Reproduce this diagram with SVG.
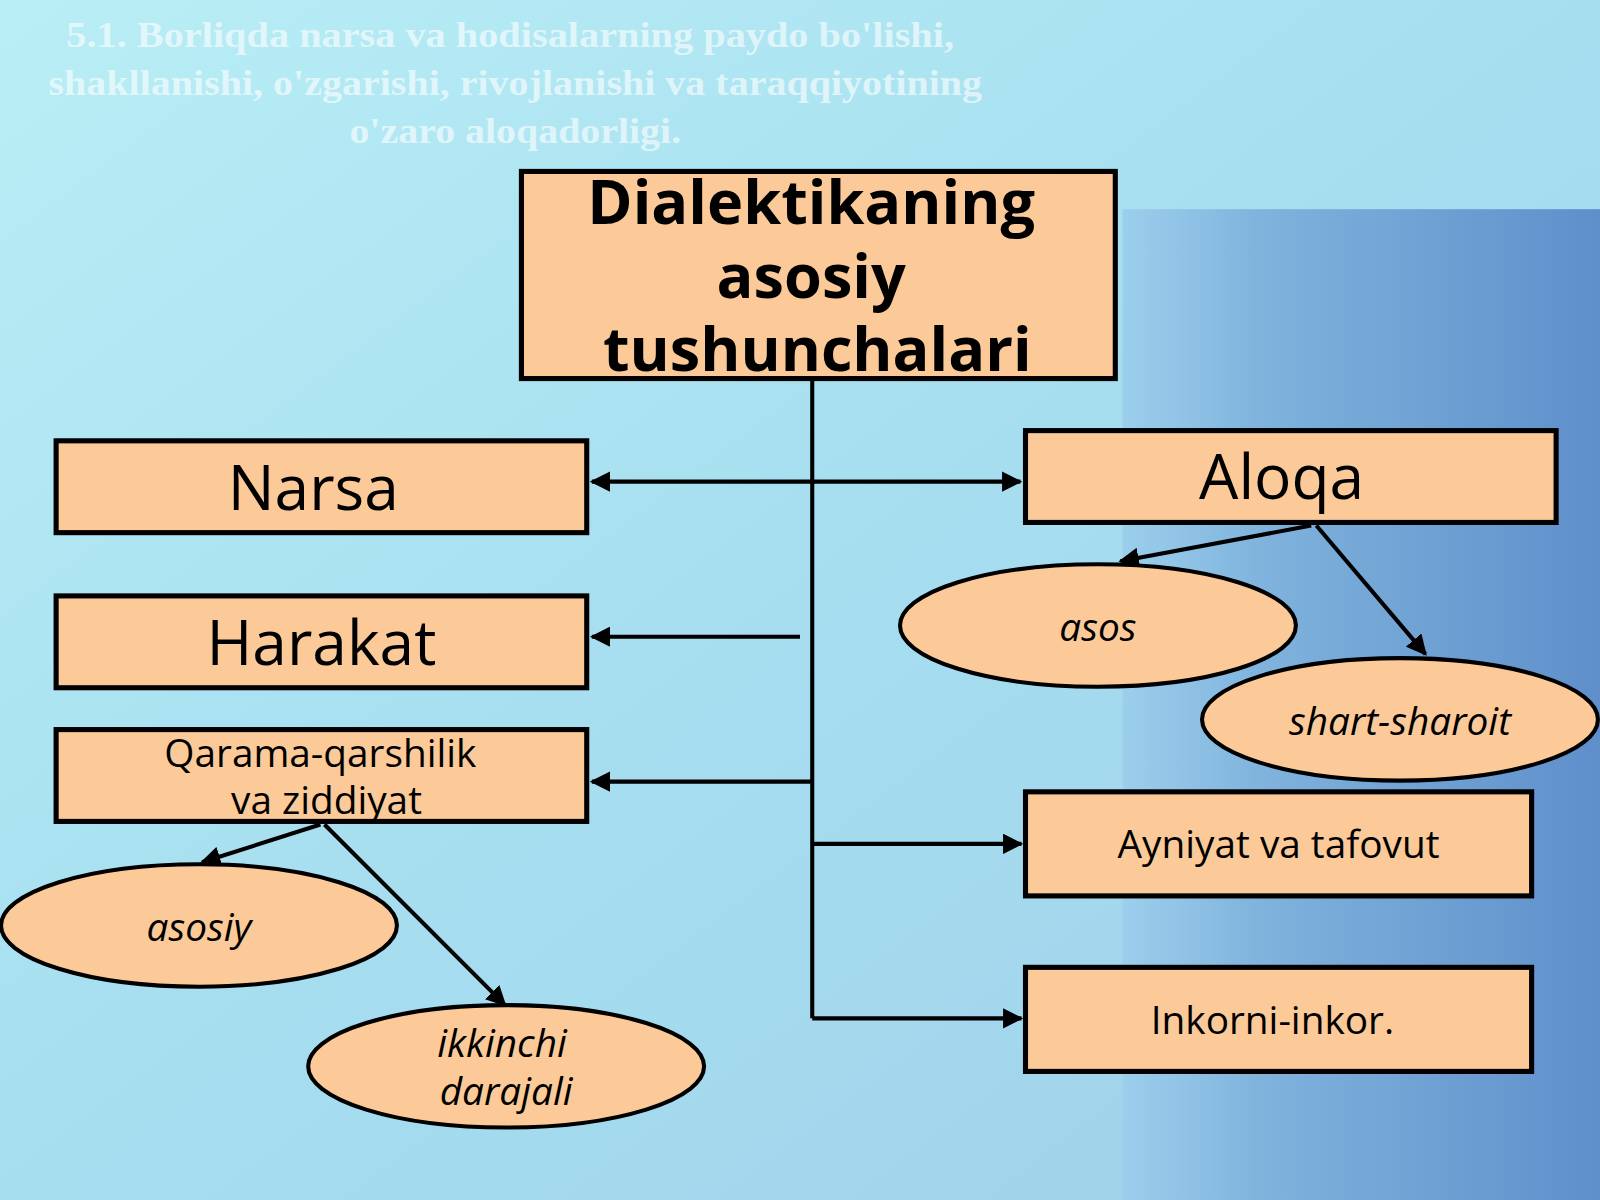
<svg xmlns="http://www.w3.org/2000/svg" width="1600" height="1200" viewBox="0 0 1600 1200">
<defs>
<linearGradient id="bg" x1="0" y1="0" x2="1" y2="1"><stop offset="0" stop-color="#b9eef5"/><stop offset="0.5" stop-color="#a6def0"/><stop offset="1" stop-color="#9fcfe9"/></linearGradient>
<linearGradient id="panel" x1="0" y1="0" x2="1" y2="0"><stop offset="0" stop-color="#9ccfec"/><stop offset="0.3" stop-color="#7fb2dc"/><stop offset="1" stop-color="#5f8fcb"/></linearGradient>
<marker id="ar" viewBox="0 0 10 10" refX="9" refY="5" markerWidth="5" markerHeight="5" orient="auto-start-reverse"><path d="M0,0L10,5L0,10z" fill="#000"/></marker>
<style>
.box{fill:#fcca98;stroke:#000;stroke-width:5}
.el{fill:#fcca98;stroke:#000;stroke-width:4}
.t{font-family:"Open Sans","Noto Sans",sans-serif;fill:#000;text-anchor:middle}
.i{font-style:italic;font-size:38px}
.c{stroke:#000;stroke-width:4;fill:none}
</style>
</defs>
<g transform="scale(1.0204)">
<rect width="1568" height="1176" fill="url(#bg)"/>
<rect x="1100" y="205" width="468" height="971" fill="url(#panel)"/>
<g font-family="Liberation Serif,serif" font-weight="bold" font-size="35" fill="#fff" fill-opacity="0.6" text-anchor="middle">
<text x="500" y="46" textLength="870" lengthAdjust="spacingAndGlyphs">5.1. Borliqda  narsa va hodisalarning paydo bo'lishi,</text>
<text x="505" y="93" textLength="915" lengthAdjust="spacingAndGlyphs">shakllanishi, o'zgarishi, rivojlanishi va taraqqiyotining</text>
<text x="505" y="140" textLength="325" lengthAdjust="spacingAndGlyphs">o'zaro aloqadorligi.</text>
</g>
<g id="connectors">
<line class="c" x1="796" y1="372" x2="796" y2="998"/>
<line class="c" x1="580" y1="472" x2="1000" y2="472" marker-start="url(#ar)" marker-end="url(#ar)"/>
<line class="c" x1="784" y1="624" x2="580" y2="624" marker-end="url(#ar)"/>
<line class="c" x1="796" y1="766" x2="580" y2="766" marker-end="url(#ar)"/>
<line class="c" x1="796" y1="827" x2="1001" y2="827" marker-end="url(#ar)"/>
<line class="c" x1="796" y1="998" x2="1001" y2="998" marker-end="url(#ar)"/>
<line class="c" x1="1285" y1="515" x2="1098" y2="550" marker-end="url(#ar)"/>
<line class="c" x1="1290" y1="515" x2="1397" y2="641" marker-end="url(#ar)"/>
<line class="c" x1="314" y1="808" x2="198" y2="845" marker-end="url(#ar)"/>
<line class="c" x1="318" y1="808" x2="495" y2="985" marker-end="url(#ar)"/>
</g>
<g id="main"><rect class="box" x="511" y="168" width="582" height="203"/>
<text class="t" font-weight="bold" font-size="60"><tspan x="795" y="220">Dialektikaning</tspan><tspan x="795" y="292">asosiy</tspan><tspan x="801" y="364">tushunchalari</tspan></text></g>
<g id="narsa"><rect class="box" x="55" y="432" width="520" height="90"/><text class="t" x="307" y="500" font-size="61">Narsa</text></g>
<g id="harakat"><rect class="box" x="55" y="584" width="520" height="90"/><text class="t" x="315" y="652" font-size="61">Harakat</text></g>
<g id="qarama"><rect class="box" x="55" y="715" width="520" height="90"/><text class="t" font-size="38"><tspan x="314" y="752">Qarama-qarshilik</tspan><tspan x="320" y="798">va ziddiyat</tspan></text></g>
<g id="aloqa"><rect class="box" x="1005" y="422" width="520" height="90"/><text class="t" x="1256" y="489" font-size="61">Aloqa</text></g>
<g id="ayniyat"><rect class="box" x="1005" y="776" width="496" height="102"/><text class="t" x="1253" y="841" font-size="38">Ayniyat va tafovut</text></g>
<g id="inkor"><rect class="box" x="1005" y="948" width="496" height="102"/><text class="t" x="1247" y="1013" font-size="38">Inkorni-inkor.</text></g>
<g id="asos"><ellipse class="el" cx="1076" cy="613" rx="194" ry="60"/><text class="t i" x="1076" y="628">asos</text></g>
<g id="shart"><ellipse class="el" cx="1372" cy="705" rx="194" ry="60"/><text class="t i" x="1372" y="720">shart-sharoit</text></g>
<g id="asosiy"><ellipse class="el" cx="195" cy="907" rx="194" ry="60"/><text class="t i" x="195" y="922">asosiy</text></g>
<g id="ikkinchi"><ellipse class="el" cx="496" cy="1045" rx="194" ry="60"/><text class="t i"><tspan x="492" y="1036">ikkinchi</tspan><tspan x="496" y="1083">darajali</tspan></text></g>
</g>
</svg>
